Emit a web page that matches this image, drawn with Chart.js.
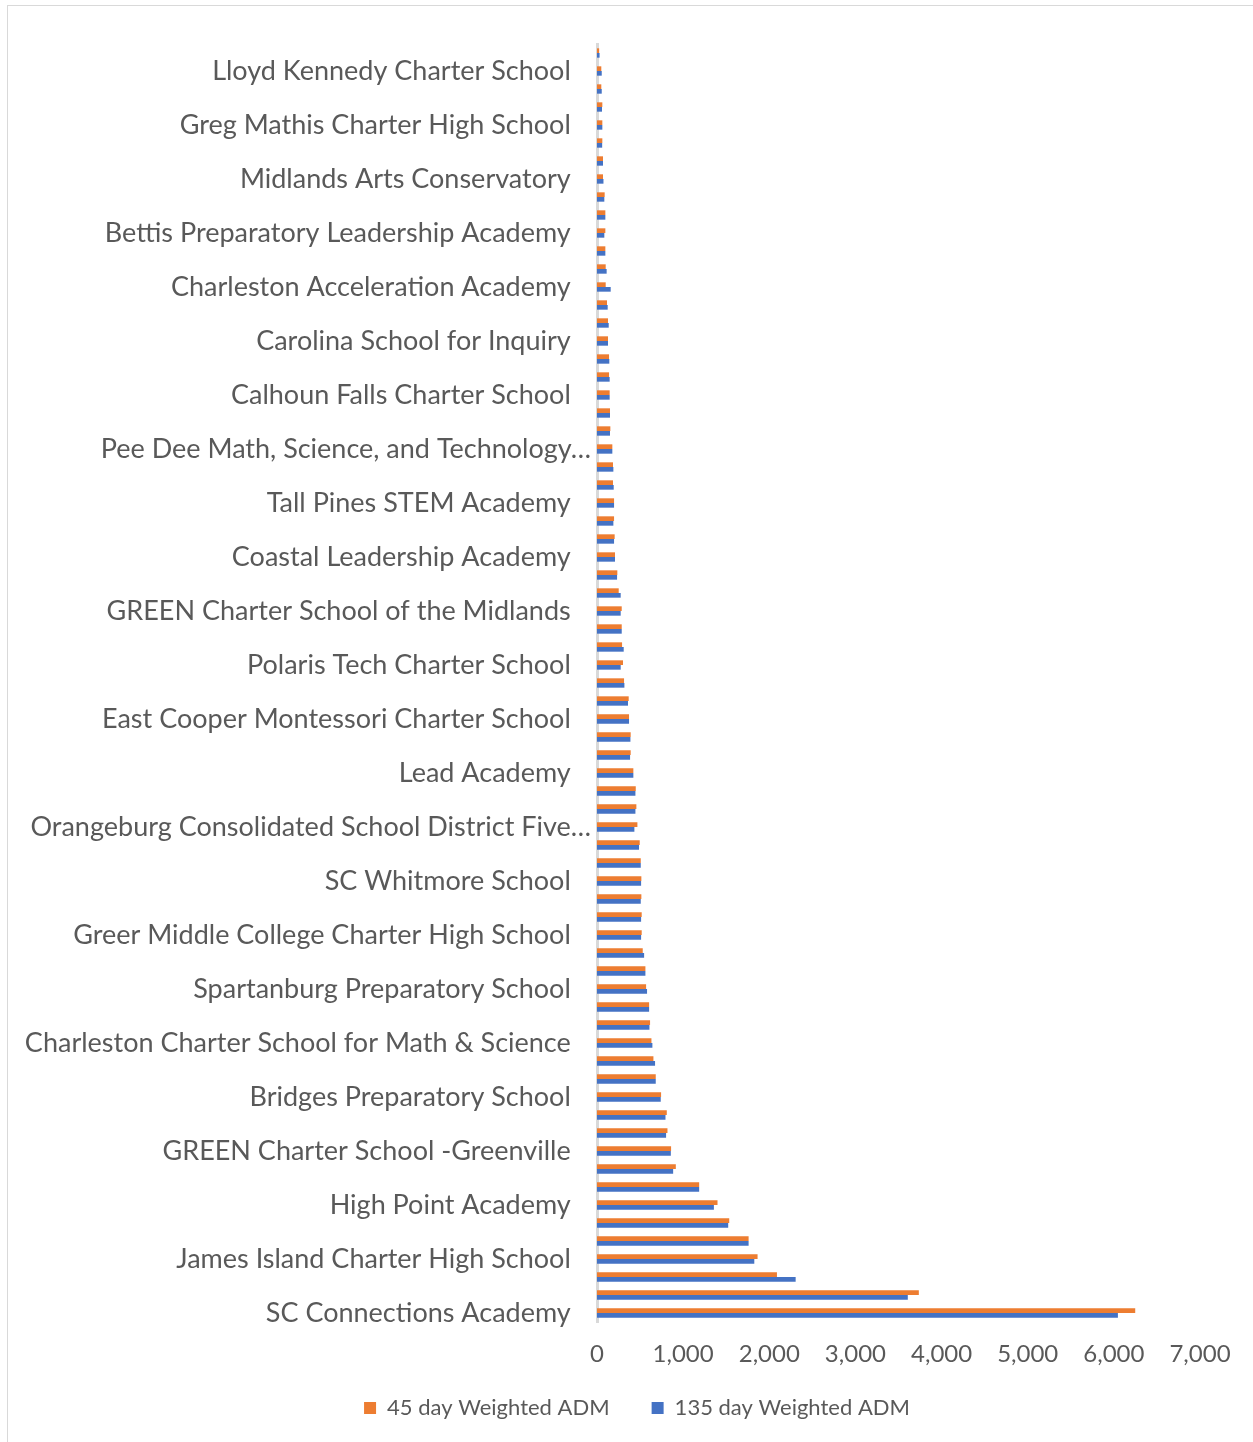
<!DOCTYPE html>
<html>
<head>
<meta charset="utf-8">
<title>Weighted ADM by school</title>
<script src="https://cdn.jsdelivr.net/npm/chart.js@4"></script>
<style>
  html, body { margin: 0; padding: 0; background: #fff; overflow: hidden; }
  #frame { position: absolute; left: 7px; top: 5px; width: 1320px; height: 1500px; border: 1px solid #d9d9d9; }
  #wrap { position: absolute; left: 8px; top: 6px; width: 1258px; height: 1436px; }
</style>
</head>
<body>
<div id="frame"></div>
<div id="wrap"><canvas id="admChart"></canvas></div>
<script>
// --- Data (top of chart to bottom) ---
// only every third school is named on the axis; the others are unlabeled in the picture
const schools = [
  'Unlabeled school A', 'Lloyd Kennedy Charter School', 'Unlabeled school B',
  'Unlabeled school C', 'Greg Mathis Charter High School', 'Unlabeled school D',
  'Unlabeled school E', 'Midlands Arts Conservatory', 'Unlabeled school F',
  'Unlabeled school G', 'Bettis Preparatory Leadership Academy', 'Unlabeled school H',
  'Unlabeled school I', 'Charleston Acceleration Academy', 'Unlabeled school J',
  'Unlabeled school K', 'Carolina School for Inquiry', 'Unlabeled school L',
  'Unlabeled school M', 'Calhoun Falls Charter School', 'Unlabeled school N',
  'Unlabeled school O', 'Pee Dee Math, Science, and Technology\u2026', 'Unlabeled school P',
  'Unlabeled school Q', 'Tall Pines STEM Academy', 'Unlabeled school R',
  'Unlabeled school S', 'Coastal Leadership Academy', 'Unlabeled school T',
  'Unlabeled school U', 'GREEN Charter School of the Midlands', 'Unlabeled school V',
  'Unlabeled school W', 'Polaris Tech Charter School', 'Unlabeled school X',
  'Unlabeled school Y', 'East Cooper Montessori Charter School', 'Unlabeled school Z',
  'Unlabeled school AA', 'Lead Academy', 'Unlabeled school AB',
  'Unlabeled school AC', 'Orangeburg Consolidated School District Five\u2026', 'Unlabeled school AD',
  'Unlabeled school AE', 'SC Whitmore School', 'Unlabeled school AF',
  'Unlabeled school AG', 'Greer Middle College Charter High School', 'Unlabeled school AH',
  'Unlabeled school AI', 'Spartanburg Preparatory School', 'Unlabeled school AJ',
  'Unlabeled school AK', 'Charleston Charter School for Math & Science', 'Unlabeled school AL',
  'Unlabeled school AM', 'Bridges Preparatory School', 'Unlabeled school AN',
  'Unlabeled school AO', 'GREEN Charter School -Greenville', 'Unlabeled school AP',
  'Unlabeled school AQ', 'High Point Academy', 'Unlabeled school AR',
  'Unlabeled school AS', 'James Island Charter High School', 'Unlabeled school AT',
  'Unlabeled school AU', 'SC Connections Academy'
];

const adm45 = [
  25, 50, 50, 62, 62, 62, 70, 70, 89, 97, 97, 97,
  101, 101, 116, 128, 128, 140, 140, 147, 151, 155, 178, 186,
  186, 198, 198, 205, 209, 236, 252, 287, 287, 291, 302, 314,
  368, 372, 391, 391, 422, 450, 457, 469, 496, 508, 515, 515,
  519, 519, 531, 562, 570, 605, 616, 632, 655, 682, 744, 810,
  818, 860, 915, 1186, 1399, 1535, 1760, 1864, 2089, 3736, 6248
];

const adm135 = [
  30, 55, 55, 58, 62, 60, 70, 75, 85, 97, 85, 97,
  112, 159, 124, 136, 128, 143, 147, 147, 151, 151, 178, 190,
  194, 198, 190, 198, 209, 233, 275, 275, 287, 310, 275, 318,
  360, 372, 388, 384, 422, 446, 446, 434, 488, 508, 512, 508,
  512, 512, 547, 562, 581, 605, 609, 643, 674, 682, 740, 795,
  802, 857, 884, 1186, 1357, 1523, 1760, 1826, 2306, 3608, 6047
];

const xTicks = [0, 1000, 2000, 3000, 4000, 5000, 6000, 7000];

const textGray = '#595959';

// nudge the legend: centre it on the whole frame and lift it a little
const legendNudge = {
    id: 'legendNudge',
    afterLayout(chart) {
        const lg = chart.legend;
        if (!lg) return;
        lg.right = chart.width - 9;
        lg.top -= 13;
        lg.bottom -= 13;
    }
};

// --- Chart.js Initialization ---
document.addEventListener("DOMContentLoaded", function () {
    const ctx = document.getElementById('admChart');
    new Chart(ctx, {
        type: 'bar',
        data: {
            labels: schools,
            datasets: [{
                label: '45 day Weighted ADM',
                data: adm45,
                backgroundColor: '#ED7D31'
            }, {
                label: '135 day Weighted ADM',
                data: adm135,
                backgroundColor: '#4472C4'
            }]
        },
        options: {
            indexAxis: 'y',
            responsive: true,
            maintainAspectRatio: false,
            animation: false,
            categoryPercentage: 0.52,
            barPercentage: 1.0,
            layout: { padding: { left: 9, top: 38, right: 66, bottom: 0 } },
            scales: {
                x: {
                    min: 0,
                    max: xTicks[xTicks.length - 1],
                    afterBuildTicks: axis => { axis.ticks = xTicks.map(v => ({ value: v })); },
                    grid: { display: false, drawTicks: false },
                    border: { display: false },
                    ticks: { color: textGray, font: { family: 'Lato', size: 24 }, padding: 18 },
                    afterFit: s => { s.height = 46; }
                },
                y: {
                    grid: { display: false, drawTicks: false },
                    border: { display: true, color: '#d9d9d9', width: 3 },
                    ticks: {
                        autoSkip: false,
                        color: textGray,
                        font: { family: 'Lato', size: 27 },
                        padding: 6,
                        callback: function (value, index) {
                            if (index % 3 !== 1) return '';
                            const name = this.getLabelForValue(value);
                            return name.endsWith('\u2026') ? name : name + '\u2003';
                        }
                    },
                    afterFit: s => { s.width = 580; }
                }
            },
            plugins: {
                legend: {
                    position: 'bottom',
                    labels: {
                        color: textGray,
                        font: { family: 'Lato', size: 22 },
                        boxWidth: 12,
                        boxHeight: 12,
                        padding: 42
                    }
                },
                tooltip: { enabled: false }
            }
        },
        plugins: [legendNudge]
    });
});
</script>
</body>
</html>
